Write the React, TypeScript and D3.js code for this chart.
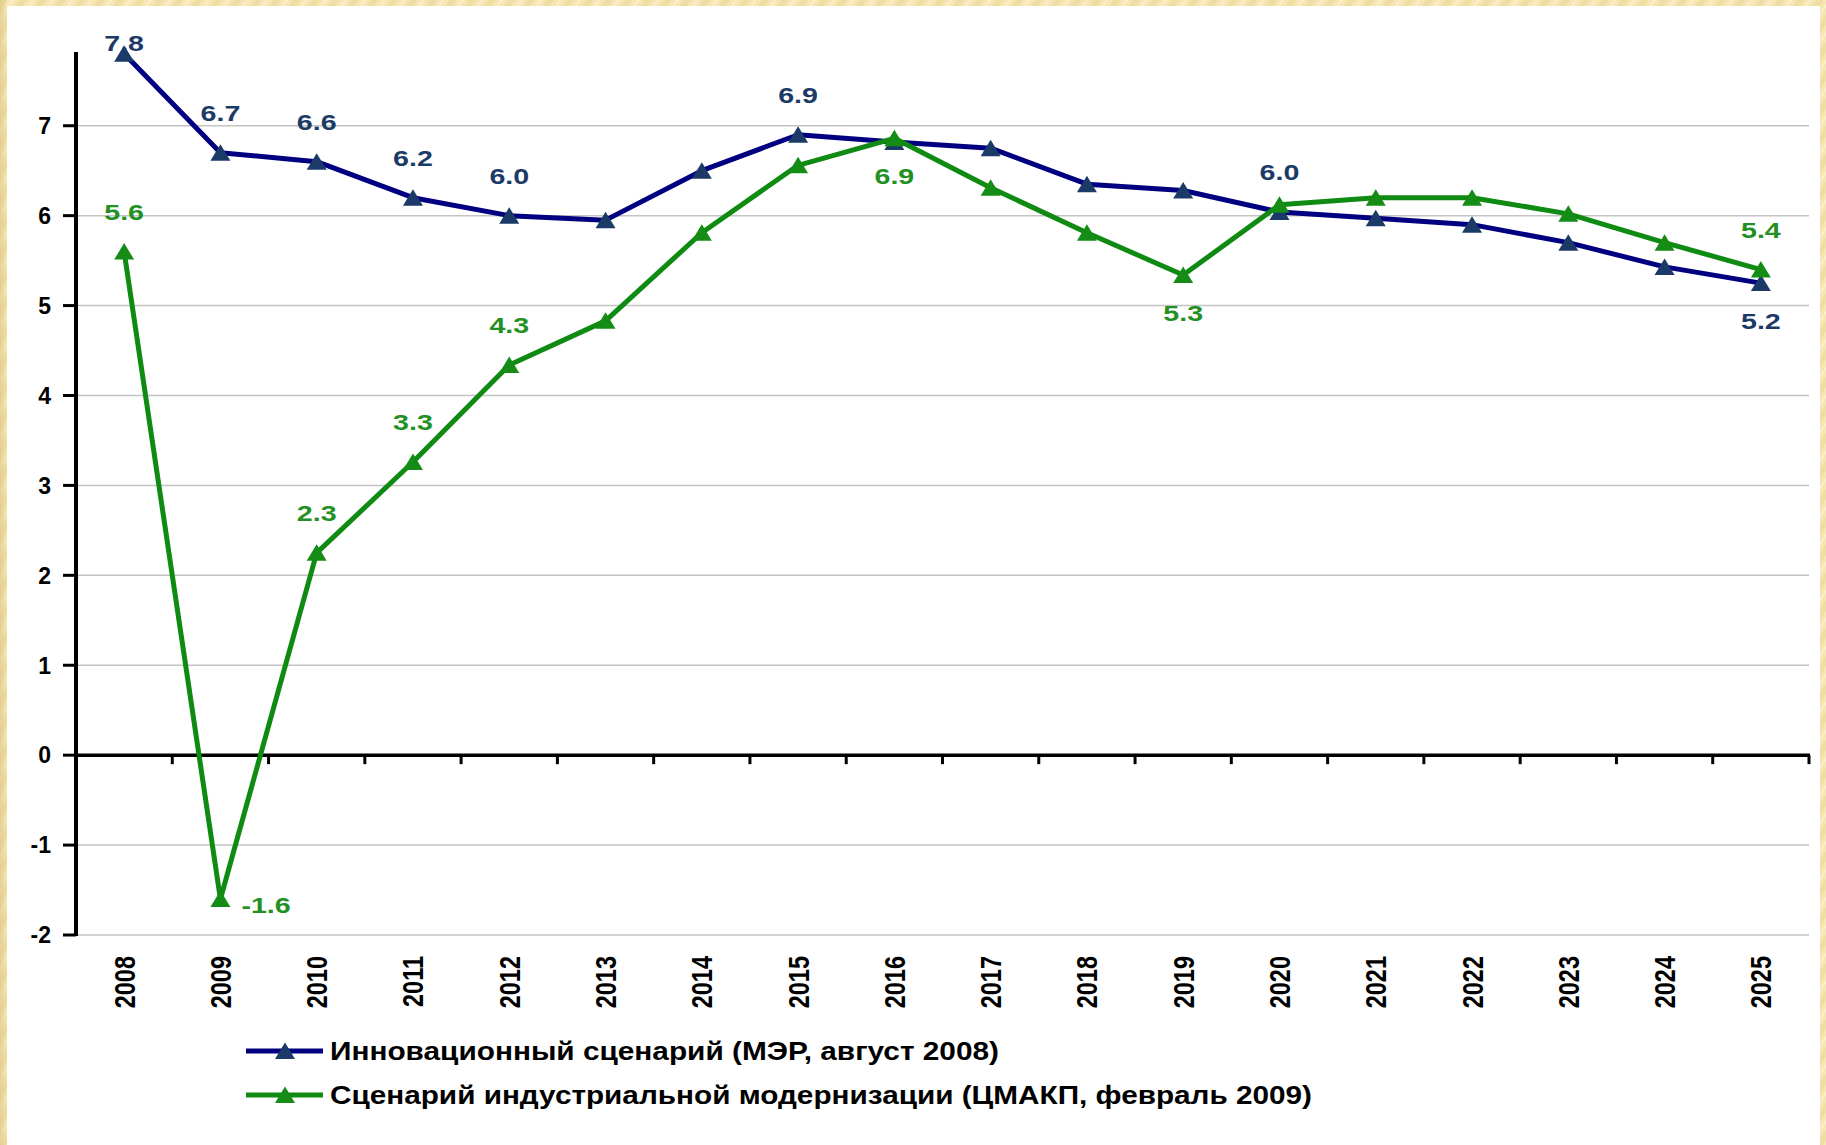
import React from "react";
import * as d3 from "d3";

const years = ["2008","2009","2010","2011","2012","2013","2014","2015","2016","2017","2018","2019","2020","2021","2022","2023","2024","2025"];
const innovation = [7.8, 6.7, 6.6, 6.2, 6.0, 5.95, 6.5, 6.9, 6.82, 6.75, 6.35, 6.28, 6.04, 5.97, 5.9, 5.7, 5.43, 5.25];
const industrial = [5.6, -1.6, 2.25, 3.26, 4.34, 4.83, 5.81, 6.56, 6.86, 6.31, 5.81, 5.34, 6.12, 6.2, 6.2, 6.02, 5.7, 5.4];
// data labels: [index, text, placement]
const innovationLabels: [number, string, string][] = [
  [0, "7.8", "top"], [1, "6.7", "above"], [2, "6.6", "above"], [3, "6.2", "above"], [4, "6.0", "above"],
  [7, "6.9", "above"], [12, "6.0", "above"], [17, "5.2", "below"],
];
const industrialLabels: [number, string, string][] = [
  [0, "5.6", "above"], [1, "-1.6", "right"], [2, "2.3", "above"], [3, "3.3", "above"], [4, "4.3", "above"],
  [8, "6.9", "below"], [11, "5.3", "below"], [17, "5.4", "above"],
];
const yTicks = [-2, -1, 0, 1, 2, 3, 4, 5, 6, 7];
const legendNames = [
  "Инновационный сценарий (МЭР, август 2008)",
  "Сценарий индустриальной модернизации (ЦМАКП, февраль 2009)",
];

const W = 1826, H = 1145;
const plotL = 76, plotR = 1809, plotT = 52, plotB = 935;

const BLUE_LINE = "#000080";
const BLUE_MARK = "#1B3A68";
const BLUE_TEXT = "#1B3A66";
const GREEN_LINE = "#0F8A12";
const GREEN_MARK = "#148C16";
const GREEN_TEXT = "#229022";

const FONT = "'Liberation Sans', Arial, sans-serif";

const tri = "M0,-8.5 L10,8 L-10,8 Z";

export default function App() {
  const x = d3.scaleBand<string>().domain(years).range([plotL, plotR]).padding(0);
  const y = d3.scaleLinear().domain([-2, 7.82]).range([plotB, plotT]);
  const cx = (i: number) => (x(years[i]) as number) + x.bandwidth() / 2;
  const line = d3.line<number>().x((_, i) => cx(i)).y((d) => y(d));
  const boundaries = d3.range(years.length + 1).map((i) => plotL + i * x.bandwidth());

  const series = [
    { values: innovation, labels: innovationLabels, lineC: BLUE_LINE, markC: BLUE_MARK, textC: BLUE_TEXT },
    { values: industrial, labels: industrialLabels, lineC: GREEN_LINE, markC: GREEN_MARK, textC: GREEN_TEXT },
  ];

  const labelPos = (i: number, v: number, place: string) => {
    const px = cx(i), py = y(v);
    if (place === "top") return { x: px, y: py - 11, anchor: "middle" };
    if (place === "above") return { x: px, y: py - 40, anchor: "middle" };
    if (place === "below") return { x: px, y: py + 38, anchor: "middle" };
    return { x: px + 21, y: py + 6, anchor: "start" };
  };

  return (
    <svg width={W} height={H} style={{ position: "absolute", left: 0, top: 0, display: "block" }}
      xmlns="http://www.w3.org/2000/svg" fontFamily={FONT}>
      <defs>
        <pattern id="frameTex" width="16" height="16" patternUnits="userSpaceOnUse" patternTransform="rotate(35)">
          <rect width="16" height="16" fill="#F6E6B4" />
          <rect width="6" height="16" fill="#F0DDA4" />
          <rect x="10" width="2" height="16" fill="#FBEFC9" />
        </pattern>
        <linearGradient id="leftFrame" x1="0" x2="1" y1="0" y2="0">
          <stop offset="0" stopColor="#E2CB8A" stopOpacity="0.8" />
          <stop offset="1" stopColor="#E2CB8A" stopOpacity="0" />
        </linearGradient>
      </defs>
      <rect x={0} y={0} width={W} height={H} fill="url(#frameTex)" />
      <rect x={0} y={0} width={8} height={H} fill="url(#leftFrame)" />
      <rect x={7} y={6} width={1813} height={H - 6} fill="#FFFFFF" />

      {/* gridlines */}
      {yTicks.filter((t) => t !== 0).map((t) => (
        <line key={"g" + t} x1={plotL} x2={plotR} y1={y(t)} y2={y(t)} stroke="#C4C4C4" strokeWidth={1.5} />
      ))}

      {/* y axis */}
      <line x1={plotL} x2={plotL} y1={plotT} y2={plotB + 1} stroke="#000" strokeWidth={4} />
      {yTicks.map((t) => (
        <g key={"yt" + t}>
          <line x1={plotL - 13} x2={plotL} y1={y(t)} y2={y(t)} stroke="#000" strokeWidth={3} />
          <text x={51} y={y(t)} dy="0.36em" textAnchor="end" fontSize={23} fontWeight="bold" fill="#000">{t}</text>
        </g>
      ))}

      {/* zero axis */}
      <line x1={plotL} x2={plotR + 1} y1={y(0)} y2={y(0)} stroke="#000" strokeWidth={3.5} />
      {boundaries.slice(1).map((bx, i) => (
        <line key={"xt" + i} x1={bx} x2={bx} y1={y(0)} y2={y(0) + 9} stroke="#000" strokeWidth={3} />
      ))}

      {/* x labels */}
      {years.map((yr, i) => (
        <text key={"xl" + yr} transform={`translate(${cx(i)},956) rotate(-90) scale(1,1.24)`}
          dy="0.36em" textAnchor="end" fontSize={23.5} fontWeight="bold" fill="#000">{yr}</text>
      ))}

      {/* series */}
      {series.map((s, si) => (
        <g key={"s" + si}>
          <path d={line(s.values) as string} fill="none" stroke={s.lineC} strokeWidth={5} strokeLinejoin="round" />
          {s.values.map((v, i) => (
            <path key={"m" + i} d={tri} transform={`translate(${cx(i)},${y(v)})`} fill={s.markC} />
          ))}
        </g>
      ))}

      {/* data labels */}
      {series.map((s, si) => (
        <g key={"dl" + si}>
          {s.labels.map(([i, txt, place]) => {
            const p = labelPos(i, s.values[i], place);
            return (
              <text key={"l" + i} transform={`translate(${p.x},${p.y}) scale(1.3,1)`} dy="0.36em"
                textAnchor={p.anchor} fontSize={22} fontWeight="bold" fill={s.textC}>{txt}</text>
            );
          })}
        </g>
      ))}

      {/* legend */}
      {legendNames.map((name, li) => {
        const ly = 1051 + li * 44;
        const s = series[li];
        return (
          <g key={"lg" + li}>
            <line x1={246} x2={323} y1={ly} y2={ly} stroke={s.lineC} strokeWidth={5} />
            <path d={tri} transform={`translate(285,${ly})`} fill={s.markC} />
            <text x={330} y={ly} dy="0.36em" fontSize={25} fontWeight="bold" fill="#000"
              textLength={li === 0 ? 669 : 982} lengthAdjust="spacingAndGlyphs">{name}</text>
          </g>
        );
      })}
    </svg>
  );
}
